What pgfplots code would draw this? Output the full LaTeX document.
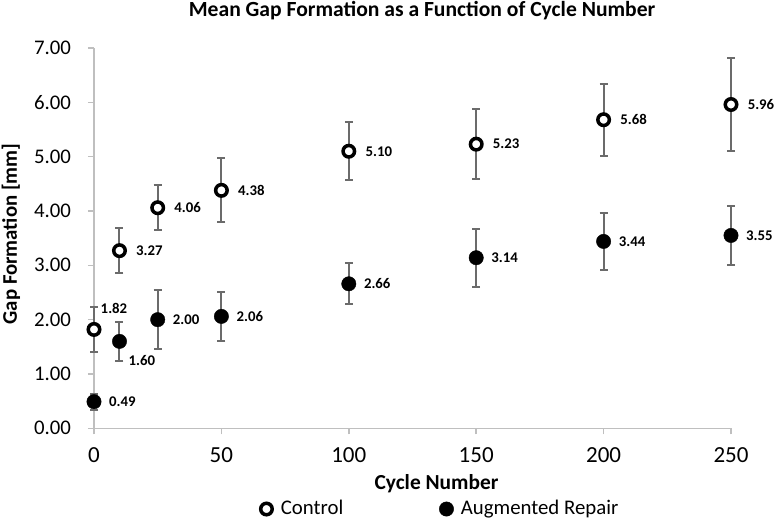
\documentclass[border=0pt]{standalone}
\usepackage{fontspec}
\setmainfont{Carlito}
\usepackage{pgfplots}
\usepackage{pgfplotstable}
\pgfplotsset{compat=1.18}
\definecolor{axgray}{HTML}{BFBFBF}
\definecolor{errgray}{HTML}{6B6B6B}

\pgfplotstableread{
x   y    e    dx   dy
0   1.82 0.41 2.5  10.5
10  3.27 0.42 7.5  0
25  4.06 0.41 7.5  0
50  4.38 0.59 7.5  0
100 5.10 0.53 7.5  0
150 5.23 0.65 7.5  0
200 5.68 0.66 7.5  0
250 5.96 0.85 7.5  0
}\control

\pgfplotstableread{
x   y    e    dx   dy
0   0.49 0.15 7.5  0
10  1.60 0.36 4.5  -9.5
25  2.00 0.54 7.5  0
50  2.06 0.45 7.5  0
100 2.66 0.38 7.5  0
150 3.14 0.53 7.5  0
200 3.44 0.52 7.5  0
250 3.55 0.55 7.5  0
}\augmented

\begin{document}
\begin{tikzpicture}
\useasboundingbox (0,0) rectangle (387pt,263.5pt);
\begin{axis}[
  at={(47pt,49.35pt)}, anchor=south west,
  scale only axis,
  width=318.5pt, height=190.15pt,
  xmin=0, xmax=250, ymin=0, ymax=7,
  axis x line*=bottom, axis y line*=left,
  axis line style={axgray, line width=0.75pt, -},
  tick style={axgray, line width=0.75pt},
  tick align=outside,
  major tick length=3pt,
  xtick={0,50,100,150,200,250},
  ytick={0,1,2,3,4,5,6,7},
  /pgf/number format/assume math mode=true,
  yticklabel style={/pgf/number format/.cd, fixed, fixed zerofill, precision=2, /tikz/.cd,
    font=\fontsize{10.4}{12}\selectfont, xshift=-5pt},
  xticklabel style={font=\fontsize{11.5}{13}\selectfont, yshift=-3pt},
  every axis title shift=0pt,
  title={\textbf{Mean Gap Formation as a Function of Cycle Number}},
  title style={at={(0.515,1.0823)}, anchor=base, yshift=0pt, font=\fontsize{10.8}{12}\selectfont},
  xlabel={\textbf{Cycle Number}},
  xlabel style={at={(0.5377,-0.1596)}, anchor=base, font=\fontsize{10.7}{12}\selectfont},
  ylabel={\textbf{Gap Formation [mm]}},
  ylabel style={at={(-0.1303,0.511)}, anchor=center, rotate=0, font=\fontsize{10.4}{12}\selectfont},
  legend style={draw=none, fill=none, at={(0.5455,-0.2122)}, anchor=center,
    font=\fontsize{10.4}{12}\selectfont,
    /tikz/every even column/.append style={column sep=46pt}},
  legend columns=2,
  legend image code/.code={\draw[mark repeat=1,mark phase=1,#1] plot coordinates {(0pt,0pt)}; \path (5pt,0pt);},
  clip=false,
  error bars/error bar style={errgray, line width=1pt},
  error bars/error mark options={rotate=90, mark size=2pt, errgray, line width=1pt},
  visualization depends on={\thisrow{dx} \as \dx},
  visualization depends on={\thisrow{dy} \as \dy},
  nodes near coords={\textbf{\pgfmathprintnumber[fixed,fixed zerofill,precision=2]{\pgfplotspointmeta}}},
  nodes near coords style={anchor=west, inner sep=0pt, xshift=\dx pt, yshift=\dy pt,
    font=\fontsize{7.4}{8}\selectfont, black},
  point meta=explicit,
]
\addplot[only marks, mark=*, mark size=2.875pt, mark options={fill=white, draw=black, line width=1.75pt},
  error bars/.cd, y dir=both, y explicit]
  table[x=x, y=y, y error=e, meta=y] {\control};
\addlegendentry{Control}
\addplot[only marks, mark=*, mark size=3.6pt, mark options={fill=black, draw=black, line width=0.2pt},
  error bars/.cd, y dir=both, y explicit]
  table[x=x, y=y, y error=e, meta=y] {\augmented};
\addlegendentry{Augmented Repair}
\end{axis}
\end{tikzpicture}
\end{document}
